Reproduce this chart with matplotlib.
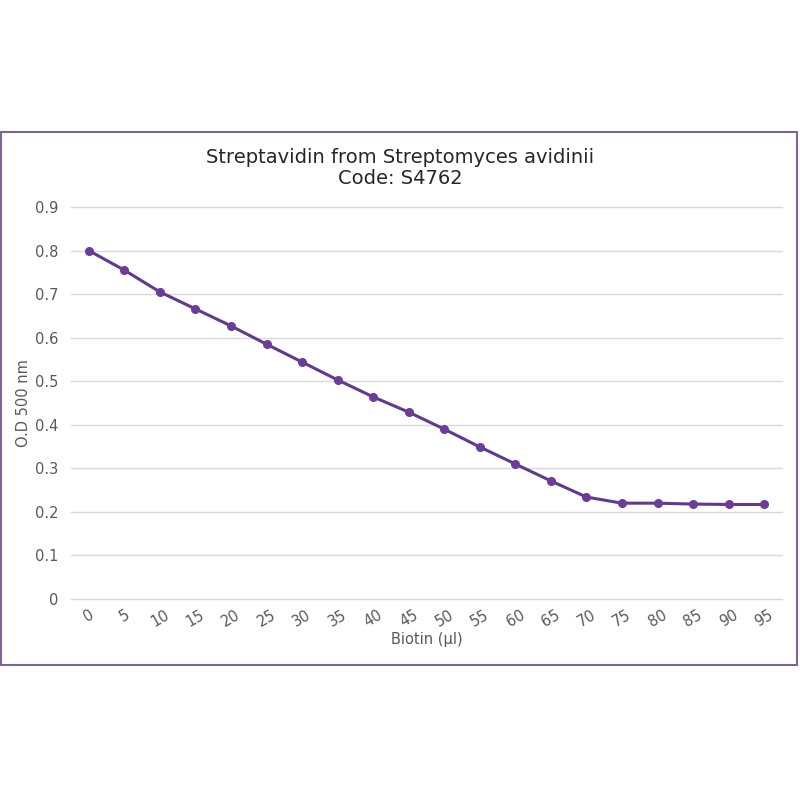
import matplotlib
matplotlib.use("Agg")
import matplotlib.pyplot as plt
from matplotlib.patches import Rectangle

biotin = [0, 5, 10, 15, 20, 25, 30, 35, 40, 45, 50, 55, 60, 65, 70, 75, 80, 85, 90, 95]
od500 = [0.800, 0.755, 0.705, 0.666, 0.627, 0.585, 0.544, 0.503, 0.464, 0.429,
         0.390, 0.349, 0.310, 0.271, 0.234, 0.220, 0.220, 0.218, 0.217, 0.217]
yticks = [0, 0.1, 0.2, 0.3, 0.4, 0.5, 0.6, 0.7, 0.8, 0.9]
ytick_labels = ["0", "0.1", "0.2", "0.3", "0.4", "0.5", "0.6", "0.7", "0.8", "0.9"]

plt.rcParams['font.family'] = ['DejaVu Sans']
fig = plt.figure(figsize=(8, 8), dpi=100)
fig.patch.set_facecolor("white")

# outer frame
fig.add_artist(Rectangle((0.001, 1 - 665/800), 0.995, (665 - 132)/800,
                         transform=fig.transFigure, fill=False,
                         edgecolor="#7e6598", linewidth=1.5))

ax = fig.add_axes([71/800, 1 - 599/800, (782 - 71)/800, (599 - 207)/800])
n = len(biotin)
xs = list(range(n))
ax.plot(xs, od500, color="#5f3a8f", linewidth=2.2, marker="o", markersize=5.5,
        markerfacecolor="#6a3d9a", markeredgecolor="#6a3d9a", zorder=3)
ax.set_xlim(-0.5, n - 0.5)
ax.set_ylim(0, 0.9)
ax.set_yticks(yticks)
ax.set_yticklabels(ytick_labels)
ax.set_xticks(xs)
ax.set_xticklabels([str(b) for b in biotin], rotation=30, ha="center")
ax.grid(axis="y", color="#d9d9d9", linewidth=1)
for gl in ax.get_ygridlines():
    gl.set_clip_on(False)
ax.set_axisbelow(True)
for s in ax.spines.values():
    s.set_visible(False)
ax.tick_params(axis="both", length=0, colors="#595959", labelsize=10.5)
ax.tick_params(axis="y", pad=9)
ax.tick_params(axis="x", pad=6)
ax.set_xlabel("Biotin (µl)", color="#595959", fontsize=10.5, labelpad=2)
ax.set_ylabel("O.D 500 nm", color="#595959", fontsize=10.5, labelpad=3)
fig.text(400/800, 1 - 168/800, "Streptavidin from Streptomyces avidinii\nCode: S4762",
         ha="center", va="center", fontsize=14, color="#262626", linespacing=1.15)

fig.savefig("out.png", dpi=100)
